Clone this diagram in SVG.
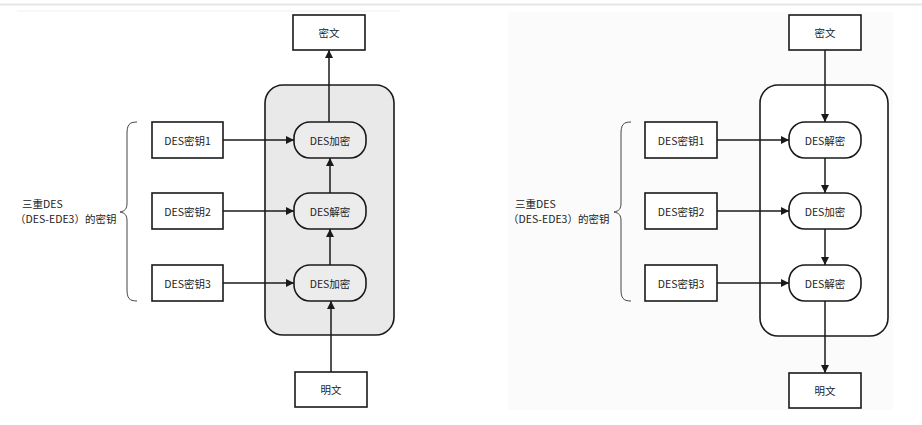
<svg xmlns="http://www.w3.org/2000/svg" width="922" height="425" viewBox="0 0 922 425">
<defs>
<style>
.box{fill:#fff;stroke:#1a1a1a;stroke-width:1.6}
.pillL{fill:#ececec;stroke:#1a1a1a;stroke-width:1.6}
.pillR{fill:#fff;stroke:#1a1a1a;stroke-width:1.6}
.t{font-family:"Noto Sans CJK SC","Noto Sans",sans-serif;font-size:10.5px;fill:#222;text-anchor:middle;dominant-baseline:central}
.lbl{font-family:"Noto Sans CJK SC","Noto Sans",sans-serif;font-size:10.5px;fill:#222}
.c{stroke:#1a1a1a;stroke-width:1.5;fill:none}
.brace{stroke:#444;stroke-width:1;fill:none}
</style>
<marker id="ah" viewBox="0 0 10 10" refX="10" refY="5" markerWidth="8" markerHeight="8" markerUnits="userSpaceOnUse" orient="auto">
<path d="M0,0 L10,5 L0,10 Z" fill="#1a1a1a"/>
</marker>
</defs>
<rect width="922" height="425" fill="#fff"/>
<line x1="0" y1="4.5" x2="922" y2="4.5" stroke="#e6e6e6" stroke-width="2"/>
<line x1="17" y1="11" x2="400" y2="11" stroke="#efefef" stroke-width="1"/>
<rect x="508" y="12" width="385" height="398" fill="#fbfbfb"/>

<!-- Left diagram -->
<g id="left-container"><rect x="265" y="85" width="129" height="250" rx="18" fill="#e9e9e9" stroke="#1a1a1a" stroke-width="1.6"/></g>
<g id="left-ciphertext"><rect class="box" x="293" y="15" width="72" height="35"/><text class="t" x="329" y="32.5">密文</text></g>
<g id="left-plaintext"><rect class="box" x="295" y="372" width="72" height="35"/><text class="t" x="331" y="389.5">明文</text></g>
<g id="left-key1"><rect class="box" x="152" y="122" width="71" height="36"/><text class="t" x="187.5" y="140">DES密钥1</text></g>
<g id="left-key2"><rect class="box" x="152" y="193" width="71" height="36"/><text class="t" x="187.5" y="211">DES密钥2</text></g>
<g id="left-key3"><rect class="box" x="152" y="265" width="71" height="36"/><text class="t" x="187.5" y="283">DES密钥3</text></g>
<g id="left-enc1"><rect class="pillL" x="294" y="122" width="72" height="36" rx="16"/><text class="t" x="330" y="140">DES加密</text></g>
<g id="left-dec2"><rect class="pillL" x="294" y="193" width="72" height="36" rx="16"/><text class="t" x="330" y="211">DES解密</text></g>
<g id="left-enc3"><rect class="pillL" x="294" y="265" width="72" height="36" rx="16"/><text class="t" x="330" y="283">DES加密</text></g>
<g id="left-brace-label">
<path class="brace" d="M137,122 C129,122 127,125 127,134 L127,203 C127,209 125,211 120,212 C125,213 127,215 127,221 L127,289 C127,298 129,301 137,301"/>
<text class="lbl" x="22" y="208">三重DES</text>
<text class="lbl" x="15" y="223">（DES-EDE3）的密钥</text>
</g>

<!-- Right diagram -->
<g id="right-container"><rect x="760" y="85" width="128" height="251" rx="18" fill="#fff" stroke="#1a1a1a" stroke-width="1.6"/></g>
<g id="right-ciphertext"><rect class="box" x="789" y="15" width="72" height="35"/><text class="t" x="825" y="32.5">密文</text></g>
<g id="right-plaintext"><rect class="box" x="789" y="373" width="72" height="35"/><text class="t" x="825" y="390.5">明文</text></g>
<g id="right-key1"><rect class="box" x="645" y="122" width="72" height="36"/><text class="t" x="681" y="140">DES密钥1</text></g>
<g id="right-key2"><rect class="box" x="645" y="193" width="72" height="36"/><text class="t" x="681" y="211">DES密钥2</text></g>
<g id="right-key3"><rect class="box" x="645" y="265" width="72" height="36"/><text class="t" x="681" y="283">DES密钥3</text></g>
<g id="right-dec1"><rect class="pillR" x="789" y="122" width="72" height="36" rx="16"/><text class="t" x="825" y="140">DES解密</text></g>
<g id="right-enc2"><rect class="pillR" x="789" y="193" width="72" height="36" rx="16"/><text class="t" x="825" y="211">DES加密</text></g>
<g id="right-dec3"><rect class="pillR" x="789" y="265" width="72" height="36" rx="16"/><text class="t" x="825" y="283">DES解密</text></g>
<g id="right-brace-label">
<path class="brace" d="M631,122 C623,122 621,125 621,134 L621,203 C621,209 619,211 614,212 C619,213 621,215 621,221 L621,289 C621,298 623,301 631,301"/>
<text class="lbl" x="515" y="208">三重DES</text>
<text class="lbl" x="508" y="223">（DES-EDE3）的密钥</text>
</g>

<g id="connectors">
<line class="c" x1="223" y1="140" x2="294" y2="140" marker-end="url(#ah)"/>
<line class="c" x1="223" y1="211" x2="294" y2="211" marker-end="url(#ah)"/>
<line class="c" x1="223" y1="283" x2="294" y2="283" marker-end="url(#ah)"/>
<line class="c" x1="331" y1="372" x2="331" y2="301" marker-end="url(#ah)"/>
<line class="c" x1="330" y1="265" x2="330" y2="229" marker-end="url(#ah)"/>
<line class="c" x1="330" y1="193" x2="330" y2="158" marker-end="url(#ah)"/>
<line class="c" x1="329" y1="122" x2="329" y2="50" marker-end="url(#ah)"/>

<line class="c" x1="717" y1="140" x2="789" y2="140" marker-end="url(#ah)"/>
<line class="c" x1="717" y1="211" x2="789" y2="211" marker-end="url(#ah)"/>
<line class="c" x1="717" y1="283" x2="789" y2="283" marker-end="url(#ah)"/>
<line class="c" x1="825" y1="50" x2="825" y2="122" marker-end="url(#ah)"/>
<line class="c" x1="825" y1="158" x2="825" y2="193" marker-end="url(#ah)"/>
<line class="c" x1="825" y1="229" x2="825" y2="265" marker-end="url(#ah)"/>
<line class="c" x1="825" y1="301" x2="825" y2="373" marker-end="url(#ah)"/>
</g>
</svg>
